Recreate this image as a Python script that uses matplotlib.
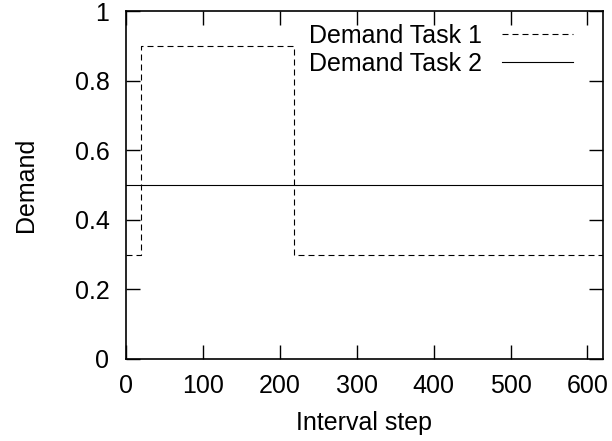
import matplotlib.pyplot as plt

plt.rcParams['font.family'] = ['Liberation Sans', 'DejaVu Sans']

# step profile of the two tasks
task1_x = [0, 20, 20, 218, 218, 620]
task1_y = [0.3, 0.3, 0.9, 0.9, 0.3, 0.3]
task2_x = [0, 620]
task2_y = [0.5, 0.5]

xticks = [0, 100, 200, 300, 400, 500, 600]
yticks = [0, 0.2, 0.4, 0.6, 0.8, 1]

fig = plt.figure(figsize=(6.12, 4.41), dpi=100)
ax = fig.add_axes([0.206, 0.186, 0.779, 0.789])

ax.plot(task1_x, task1_y, color='black', lw=0.8, dashes=(5.4, 3.6), label='Demand Task 1')
ax.plot(task2_x, task2_y, color='black', lw=0.8, label='Demand Task 2')

ax.set_xlim(0, 620)
ax.set_ylim(0, 1)
ax.set_xticks(xticks)
ax.set_yticks(yticks)
ax.set_yticklabels(['0', '0.2', '0.4', '0.6', '0.8', '1'])
ax.tick_params(direction='in', top=True, right=True, length=10, width=1,
               labelsize=18)
ax.tick_params(axis='x', pad=11)
ax.tick_params(axis='y', pad=12)
for s in ax.spines.values():
    s.set_linewidth(1.2)

ax.set_xlabel('Interval step', fontsize=18, labelpad=9)
ax.set_ylabel('Demand', fontsize=18, labelpad=26)

ax.legend(loc='upper right', bbox_to_anchor=(0.937, 0.963), frameon=False,
          fontsize=18, markerfirst=False, handlelength=2.85, borderaxespad=0,
          borderpad=0, labelspacing=0.15, handletextpad=0.8)

fig.savefig('out.png', dpi=100)
